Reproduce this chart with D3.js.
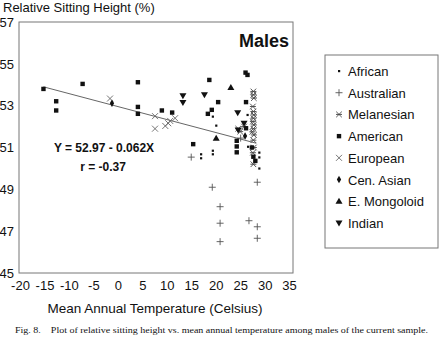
<!DOCTYPE html>
<html><head><meta charset="utf-8">
<script src="https://cdn.jsdelivr.net/npm/d3@7"></script>
<style>
body{margin:0;background:#fff;}
svg{display:block;}
text{font-family:"Liberation Sans",Arial,Helvetica,sans-serif;fill:#111;}
</style></head>
<body><svg id="c" width="440" height="337"></svg>
<script>
// ---- data ----
const xTicks = [-20,-15,-10,-5,0,5,10,15,20,25,30,35];
const yTicks = [45,47,49,51,53,55,57];
const groups = ["African","Australian","Melanesian","American","European","Cen. Asian","E. Mongoloid","Indian"];

const africanX = [19.6,20.3,17.2,17.2,19.6,19.6,29.1,29.1,29.1,26.7,26.8];
const africanY = [52.48,52.05,50.68,50.49,50.85,50.68,50.76,50.53,50.0,52.56,51.04];
const australianX = [15.2,28.7,19.5,21.1,21.1,21.1,27.0,28.7,28.7,25.3];
const australianY = [50.54,49.34,49.1,48.17,47.38,46.5,47.5,47.21,46.66,51.45];
const melanesianX = [27.9,27.9,28.0,27.8,27.9,28.0,27.9,27.8,28.0,27.9,27.7,28.0,27.9,28.0,27.8,27.9,25.2,24.8,26.0];
const melanesianY = [53.68,53.52,53.36,52.96,52.72,52.56,52.4,52.24,52.08,51.9,51.75,51.6,51.35,51.0,50.75,50.2,51.76,51.9,52.0];
const americanX = [-15,-7,-12.4,-12.4,4.3,4.3,4.3,9.2,11.3,18.9,20.7,19.4,18.6,15.6,26.3,26.7,26.4,24.5,24.5,24.5,26.4,27.6,27.9,28.3];
const americanY = [53.8,54.04,53.21,52.77,54.12,52.94,52.61,52.77,52.67,54.23,53.17,52.8,52.61,51.16,54.58,54.47,53.17,51.32,51.05,50.77,51.92,51.0,50.56,50.36];
const europeanX = [-1.4,7.8,7.8,9.9,10.5,10.9,11.9];
const europeanY = [53.34,52.5,51.9,52.03,52.16,52.27,52.40];
const cenAsianX = [-1.0,26.2];
const cenAsianY = [53.12,51.55];
const eMongoloidX = [23.3,20.3];
const eMongoloidY = [53.87,51.44];
const indianX = [13.5,13.5,17.9,24.7,26.0,24.8];
const indianY = [53.47,53.15,53.52,52.66,52.16,51.84];

const regIntercept = 52.97, regSlope = -0.062, regFrom = -15, regTo = 28.5;
const eqText = "Y = 52.97 - 0.062X";
const rText = "r = -0.37";

// ---- drawing ----
const svg = d3.select("#c");
const x = d3.scaleLinear().domain([-20,36]).range([19,293]);
const y = d3.scaleLinear().domain([45,57]).range([273,22]);

svg.append("rect").attr("x",19).attr("y",22).attr("width",274).attr("height",251)
  .attr("fill","none").attr("stroke","#777").attr("stroke-width",1);

const gx = svg.append("g").attr("transform","translate(1,279)")
  .call(d3.axisBottom(x).tickValues(xTicks).tickFormat(d=>String(d)).tickSize(0).tickPadding(2));
gx.select(".domain").remove();
gx.selectAll("text").style("font-size","13px").style("font-family","'Liberation Sans',Arial,sans-serif").attr("fill","#111");

const gy = svg.append("g").attr("transform","translate(16,0)")
  .call(d3.axisLeft(y).tickValues(yTicks).tickFormat(d=>String(d)).tickSize(0).tickPadding(2));
gy.select(".domain").remove();
gy.selectAll("text").style("font-size","13px").style("font-family","'Liberation Sans',Arial,sans-serif").attr("fill","#111");

svg.append("text").attr("x",3).attr("y",12).style("font-size","13px").text("Relative Sitting Height (%)");
svg.append("text").attr("x",155).attr("y",313).attr("text-anchor","middle").style("font-size","13.5px")
  .text("Mean Annual Temperature (Celsius)");
svg.append("text").attr("x",289).attr("y",47).attr("text-anchor","end")
  .style("font-size","18px").style("font-weight","bold").text("Males");

// regression line
svg.append("line").attr("x1",x(regFrom)).attr("y1",y(regIntercept+regSlope*regFrom))
  .attr("x2",x(regTo)).attr("y2",y(regIntercept+regSlope*regTo))
  .attr("stroke","#666").attr("stroke-width",1);

svg.append("text").attr("x",104).attr("y",152).attr("text-anchor","middle")
  .style("font-size","12px").style("font-weight","bold").text(eqText);
svg.append("text").attr("x",103).attr("y",171).attr("text-anchor","middle")
  .style("font-size","12px").style("font-weight","bold").text(rText);

// symbol drawers
function drawSym(g, type){
  if(type==="African"){
    g.append("rect").attr("x",-1).attr("y",-1).attr("width",2.2).attr("height",2.2).attr("fill","#111");
  } else if(type==="Australian"){
    g.append("path").attr("d","M-3.5,0H3.5M0,-3.5V3.5").attr("stroke","#555").attr("stroke-width",0.9).attr("fill","none");
  } else if(type==="Melanesian"){
    g.append("path").attr("d","M-2.8,-2.8L2.8,2.8M-2.8,2.8L2.8,-2.8M-3,0H3").attr("stroke","#444").attr("stroke-width",0.9).attr("fill","none");
  } else if(type==="American"){
    g.append("rect").attr("x",-2.2).attr("y",-2.2).attr("width",4.4).attr("height",4.4).attr("fill","#111");
  } else if(type==="European"){
    g.append("path").attr("d","M-3,-3L3,3M-3,3L3,-3").attr("stroke","#666").attr("stroke-width",0.9).attr("fill","none");
  } else if(type==="Cen. Asian"){
    g.append("path").attr("d",d3.symbol(d3.symbolDiamond,16)()).attr("fill","#111");
  } else if(type==="E. Mongoloid"){
    g.append("path").attr("d","M0,-3.5L3.5,2.5L-3.5,2.5Z").attr("fill","#111");
  } else if(type==="Indian"){
    g.append("path").attr("d","M0,3.5L3.5,-2.5L-3.5,-2.5Z").attr("fill","#111");
  }
}

const seriesX = [africanX,australianX,melanesianX,americanX,europeanX,cenAsianX,eMongoloidX,indianX];
const seriesY = [africanY,australianY,melanesianY,americanY,europeanY,cenAsianY,eMongoloidY,indianY];
const drawOrder = [1,4,2,3,0,5,6,7];
drawOrder.forEach(i=>{
  seriesX[i].forEach((vx,j)=>{
    const g = svg.append("g").attr("transform",`translate(${x(vx)},${y(seriesY[i][j])})`);
    drawSym(g, groups[i]);
  });
});

// legend
const lg = svg.append("g");
lg.append("rect").attr("x",325).attr("y",55).attr("width",113).attr("height",193)
  .attr("fill","none").attr("stroke","#777").attr("stroke-width",1);
const ly = d3.scalePoint().domain(groups).range([72,224]);
groups.forEach(gname=>{
  const g = lg.append("g").attr("transform",`translate(339,${ly(gname)-1})`);
  drawSym(g,gname);
  lg.append("text").attr("x",348).attr("y",ly(gname)+4).style("font-size","13px").text(gname);
});

// caption
svg.append("text").attr("x",15).attr("y",333).attr("xml:space","preserve")
  .style("font-family","'Liberation Serif','Times New Roman',serif").style("font-size","8.6px")
  .attr("textLength",413).attr("lengthAdjust","spacingAndGlyphs")
  .text("Fig. 8.    Plot of relative sitting height vs. mean annual temperature among males of the current sample.");
</script></body></html>
